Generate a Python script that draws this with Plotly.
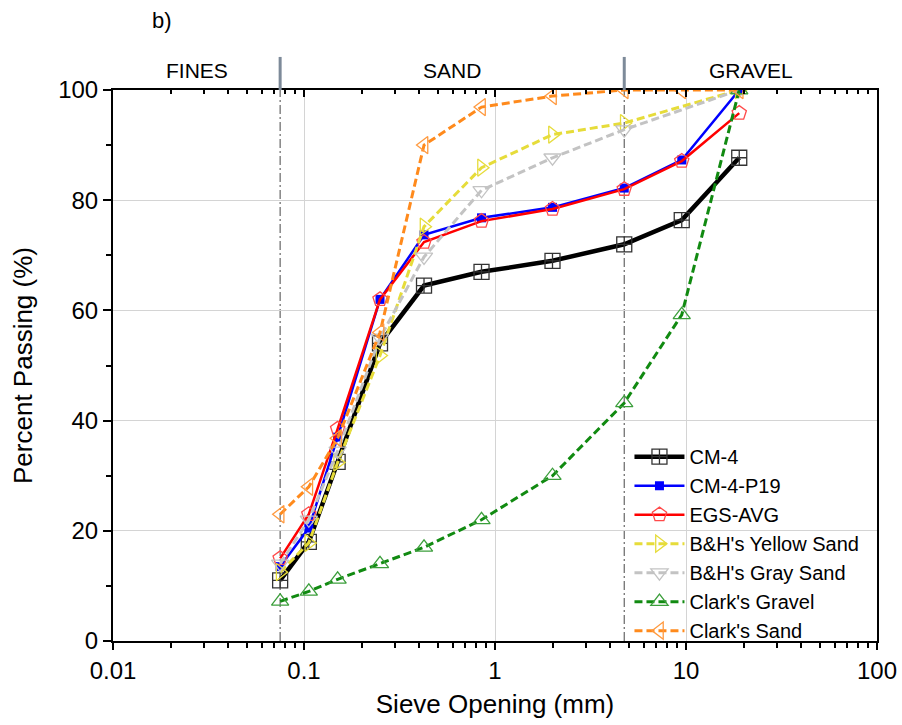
import plotly.graph_objects as go
import numpy as np

# Sieve openings (mm)
sieve = [0.075, 0.106, 0.15, 0.25, 0.425, 0.85, 2.0, 4.75, 9.5, 19.0]
sieve_sand = [0.075, 0.106, 0.15, 0.25, 0.425, 0.85, 2.0, 4.75, 19.0]

# Percent passing for each material
cm4 = [11, 18, 32.5, 54, 64.5, 67, 69, 72, 76.4, 87.7]
cm4_p19 = [13.5, 20.5, 37, 62, 73.7, 76.8, 78.7, 82.2, 87.3, 100]
egs_avg = [15, 23, 38.5, 62, 72.4, 76.2, 78.4, 82, 87.1, 95.8]
bh_yellow = [12.5, 17.8, 32.4, 51.8, 75.2, 85.9, 91.9, 94, 100]
bh_gray = [14, 22, 34.5, 55, 69.7, 81.8, 87.7, 92.8, 100]
clark_gravel = [7.2, 9, 11.2, 14, 17, 22, 30, 43.2, 59.2, 100]
clark_sand = [23, 28, 36.8, 56, 90, 96.9, 98.9, 100, 100, 100]

# Soil classification boundaries (mm)
bounds = [0.01, 0.075, 4.75, 100]
zone_names = ["FINES", "SAND", "GRAVEL"]

FONT = "Liberation Sans, Arial, sans-serif"
dash = "8px,4px"

fig = go.Figure()

fig.add_trace(go.Scatter(
    x=sieve, y=cm4, name="CM-4", mode="lines+markers",
    line=dict(color="black", width=4.5),
    marker=dict(symbol="square-cross-open", size=15, color="#333333", line=dict(width=1.3)),
))
fig.add_trace(go.Scatter(
    x=sieve, y=cm4_p19, name="CM-4-P19", mode="lines+markers",
    line=dict(color="#0000ff", width=2.5),
    marker=dict(symbol="square", size=9, color="#0000ff"),
))
fig.add_trace(go.Scatter(
    x=sieve, y=egs_avg, name="EGS-AVG", mode="lines+markers",
    line=dict(color="#ff0000", width=2.5),
    marker=dict(symbol="pentagon-open", size=15, color="#ff4a4a", line=dict(width=1.3)),
))
fig.add_trace(go.Scatter(
    x=sieve_sand, y=bh_yellow, name="B&H's Yellow Sand", mode="lines+markers",
    line=dict(color="#e6dc3a", width=3, dash=dash),
    marker=dict(symbol="triangle-right-open", size=15, color="#e6dc3a", line=dict(width=1.3)),
))
fig.add_trace(go.Scatter(
    x=sieve_sand, y=bh_gray, name="B&H's Gray Sand", mode="lines+markers",
    line=dict(color="#c3c3c3", width=3, dash=dash),
    marker=dict(symbol="triangle-down-open", size=15, color="#c3c3c3", line=dict(width=1.3)),
))
fig.add_trace(go.Scatter(
    x=sieve, y=clark_gravel, name="Clark's Gravel", mode="lines+markers",
    line=dict(color="#118a11", width=3, dash=dash),
    marker=dict(symbol="triangle-up-open", size=15, color="#3c9f3c", line=dict(width=1.3)),
))
fig.add_trace(go.Scatter(
    x=sieve, y=clark_sand, name="Clark's Sand", mode="lines+markers",
    line=dict(color="#ff8a1c", width=3, dash=dash),
    marker=dict(symbol="triangle-left-open", size=15, color="#ff9a40", line=dict(width=1.3)),
))

# Top mirror axis carrying inward ticks
fig.add_trace(go.Scatter(x=[1], y=[50], xaxis="x2", mode="markers",
                         marker=dict(opacity=0), showlegend=False, hoverinfo="skip"))

shapes = []
for b in bounds[1:-1]:
    # dash-dot boundary through the plot
    shapes.append(dict(type="line", xref="x", yref="paper", x0=b, x1=b, y0=0, y1=1,
                       line=dict(color="#666666", width=1.2, dash="9px,3px,2px,3px"), layer="below"))
    # separator above the plot
    shapes.append(dict(type="line", xref="x", yref="paper", x0=b, x1=b, y0=1, y1=1.06,
                       line=dict(color="#7d8a99", width=3)))

annotations = []
for i, name in enumerate(zone_names):
    cx = (np.log10(bounds[i]) + np.log10(bounds[i + 1])) / 2
    annotations.append(dict(x=cx, y=1.036, xref="x", yref="paper", text=name,
                            showarrow=False, font=dict(size=21, color="black", family=FONT),
                            yanchor="middle"))
annotations.append(dict(x=0.048, y=1.127, xref="paper", yref="paper", text="b)",
                        showarrow=False, font=dict(size=22, color="black", family=FONT),
                        xanchor="left", yanchor="middle"))

minor_x = [m * 10 ** e for e in range(-2, 2) for m in range(2, 10)]

fig.update_layout(
    width=902, height=725,
    margin=dict(l=113, r=25, t=90, b=84, autoexpand=False),
    paper_bgcolor="white", plot_bgcolor="white",
    font=dict(family=FONT, color="black", size=20),
    showlegend=True,
    legend=dict(x=0.676, y=0.37, xanchor="left", yanchor="top",
                bgcolor="rgba(0,0,0,0)", font=dict(size=20, family=FONT),
                itemwidth=50, tracegroupgap=0),
    shapes=shapes, annotations=annotations,
    xaxis=dict(
        type="log", range=[-2, 2], tickvals=[0.01, 0.1, 1, 10, 100],
        ticktext=["0.01", "0.1", "1", "10", "100"], automargin=False,
        showline=True, linecolor="black", linewidth=2, mirror=True,
        ticks="outside", ticklen=7, tickwidth=2, tickcolor="black",
        minor=dict(tickvals=minor_x, ticks="outside", ticklen=5, tickwidth=2,
                   tickcolor="black", showgrid=False),
        showgrid=True, gridcolor="#d4d4d4", gridwidth=1,
        title=dict(text="Sieve Opening (mm)", font=dict(size=26), standoff=12),
        tickfont=dict(size=24), zeroline=False,
    ),
    xaxis2=dict(
        type="log", range=[-2, 2], overlaying="x", side="top", matches="x",
        tickvals=[0.01, 0.1, 1, 10, 100], showticklabels=False, automargin=False,
        ticks="inside", ticklen=7, tickwidth=2, tickcolor="black",
        minor=dict(tickvals=minor_x, ticks="inside", ticklen=4, tickwidth=2,
                   tickcolor="black", showgrid=False),
        showgrid=False, showline=False, zeroline=False,
    ),
    yaxis=dict(
        range=[0, 100], tickvals=[0, 20, 40, 60, 80, 100], automargin=False,
        showline=True, linecolor="black", linewidth=2, mirror=True,
        ticks="outside", ticklen=8, tickwidth=2, tickcolor="black",
        minor=dict(tickvals=[10, 30, 50, 70, 90], ticks="outside", ticklen=5,
                   tickwidth=2, tickcolor="black", showgrid=False),
        showgrid=True, gridcolor="#d4d4d4", gridwidth=1,
        title=dict(text="Percent Passing (%)", font=dict(size=26), standoff=18),
        tickfont=dict(size=24), zeroline=False,
    ),
)

fig.write_html("out.html")
